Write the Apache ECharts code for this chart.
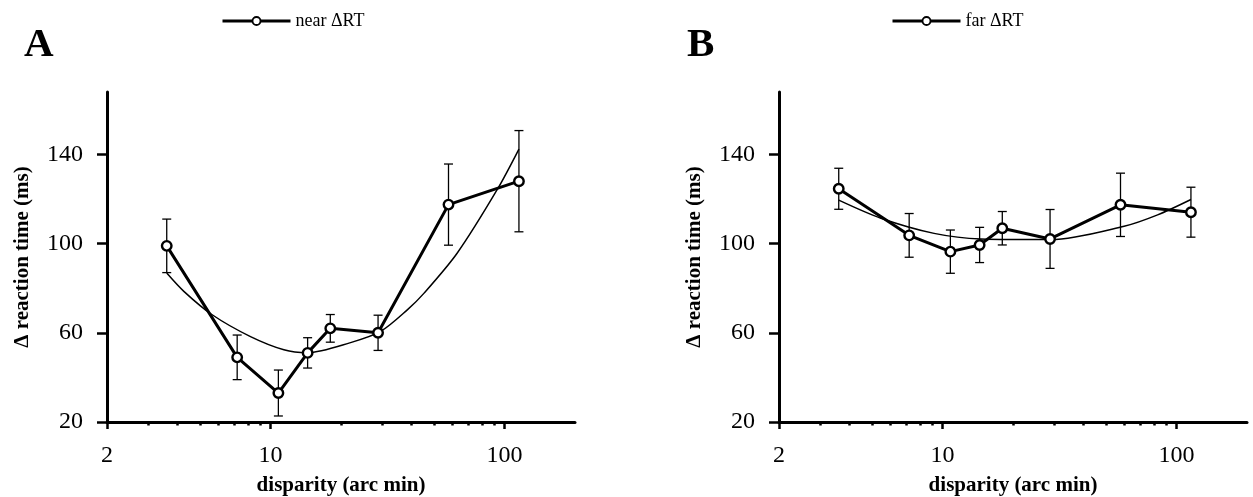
<!DOCTYPE html>
<html>
<head>
<meta charset="utf-8">
<script src="https://cdn.jsdelivr.net/npm/echarts@6/dist/echarts.min.js"></script>
<style>
  html, body { margin: 0; padding: 0; background: #fff; }
  #chart { width: 1253px; height: 497px; }
</style>
</head>
<body>
<div id="chart"></div>
<script>
// disparity steps (arc min)
const disparity = [3.6, 7.2, 10.8, 14.4, 18, 28.8, 57.6, 115.2];
// panel A: near
const nearRT = [99, 49, 33, 51, 62, 60, 117.5, 128];
const nearErr = [12, 10, 10.3, 6.8, 6.2, 7.9, 18.2, 22.7];
const nearFitX = [3.6, 4.26, 5.63, 8.21, 11.4, 14.35, 21.98, 29.5, 38.4, 45.3, 62.8, 93.1, 115.2];
const nearFitY = [86.8, 78.6, 68.1, 58.3, 52.4, 51.1, 55.6, 60.6, 70.3, 77.8, 95.8, 124.3, 142.4];
// panel B: far
const farRT = [124.6, 103.7, 96.4, 99.4, 106.9, 102.1, 117.4, 114.1];
const farErr = [9.2, 9.8, 9.7, 7.9, 7.5, 13.2, 14.2, 11.2];
const farFitX = [3.6, 5.45, 9.2, 14.6, 29, 59.7, 83, 115.2];
const farFitY = [119.5, 111.4, 104.6, 102.1, 101.8, 107.8, 112.9, 119.8];
// axes
const xMajorTicks = [2, 10, 100];
const xMinorTicks = [3, 4, 5, 6, 7, 8, 9, 20, 30, 40, 50, 60, 70, 80, 90];
const yTicks = [20, 60, 100, 140];

const FONT = 'Liberation Serif, Times New Roman, serif';

const zip = (xs, ys) => xs.map((x, i) => [x, ys[i]]);
const bars = (xs, ys, es) => xs.map((x, i) => [x, ys[i] - es[i], ys[i] + es[i]]);

function errorBarItem(params, api) {
  const x = api.value(0);
  const top = api.coord([x, api.value(2)]);
  const bot = api.coord([x, api.value(1)]);
  const cap = 4.5;
  const style = { stroke: '#000', lineWidth: 1.3 };
  return {
    type: 'group',
    children: [
      { type: 'line', shape: { x1: top[0], y1: top[1], x2: bot[0], y2: bot[1] }, style },
      { type: 'line', shape: { x1: top[0] - cap, y1: top[1], x2: top[0] + cap, y2: top[1] }, style },
      { type: 'line', shape: { x1: bot[0] - cap, y1: bot[1], x2: bot[0] + cap, y2: bot[1] }, style }
    ]
  };
}

const xMain = (grid) => ({
  type: 'log',
  logBase: 10,
  gridIndex: grid,
  min: 2,
  max: 200,
  position: 'bottom',
  name: 'disparity (arc min)',
  nameLocation: 'middle',
  nameGap: 53,
  nameTextStyle: { fontFamily: FONT, fontWeight: 'bold', fontSize: 21, color: '#000' },
  axisLine: { show: true, lineStyle: { color: '#000', width: 3 } },
  axisTick: { show: true, customValues: xMajorTicks, length: 7, lineStyle: { color: '#000', width: 2.5 } },
  axisLabel: {
    customValues: xMajorTicks,
    margin: 22,
    fontFamily: FONT,
    fontSize: 24,
    color: '#000',
    formatter: v => String(Math.round(v))
  },
  splitLine: { show: false },
  minorTick: { show: false }
});

const xMinor = (grid) => ({
  type: 'log',
  logBase: 10,
  gridIndex: grid,
  min: 2,
  max: 200,
  position: 'bottom',
  axisLine: { show: false },
  axisTick: { show: true, customValues: xMinorTicks, length: 3.5, lineStyle: { color: '#000', width: 2.5 } },
  axisLabel: { show: false },
  splitLine: { show: false }
});

const yAxisFor = (grid) => ({
  type: 'value',
  gridIndex: grid,
  min: 20,
  max: 168,
  interval: 40,
  name: 'Δ reaction time (ms)',
  nameLocation: 'middle',
  nameGap: 74,
  nameTextStyle: { fontFamily: FONT, fontWeight: 'bold', fontSize: 21, color: '#000' },
  axisLine: { show: true, lineStyle: { color: '#000', width: 3 } },
  axisTick: { show: true, customValues: yTicks, length: 10, lineStyle: { color: '#000', width: 2.5 } },
  axisLabel: { customValues: yTicks, margin: 24, fontFamily: FONT, fontSize: 24, color: '#000' },
  splitLine: { show: false }
});

const dataSeries = (name, grid, ys) => ({
  name: name,
  type: 'line',
  xAxisIndex: grid * 2,
  yAxisIndex: grid,
  data: zip(disparity, ys),
  symbol: 'circle',
  symbolSize: 9.5,
  lineStyle: { color: '#000', width: 3 },
  itemStyle: { color: '#fff', borderColor: '#000', borderWidth: 2.4 },
  z: 5
});

const fitSeries = (grid, xs, ys) => ({
  type: 'line',
  xAxisIndex: grid * 2,
  yAxisIndex: grid,
  data: zip(xs, ys),
  smooth: 0.3,
  showSymbol: false,
  symbol: 'none',
  lineStyle: { color: '#000', width: 1.5 },
  z: 3
});

const errSeries = (grid, ys, es) => ({
  type: 'custom',
  xAxisIndex: grid * 2,
  yAxisIndex: grid,
  data: bars(disparity, ys, es),
  encode: { x: 0, y: [1, 2] },
  renderItem: errorBarItem,
  z: 2
});

const legendFor = (name, left) => ({
  data: [name],
  left: left,
  top: 12,
  padding: 0,
  itemWidth: 68,
  itemHeight: 10,
  itemGap: 8,
  lineStyle: { color: '#000', width: 3 },
  itemStyle: { color: '#fff', borderColor: '#000', borderWidth: 1.8 },
  textStyle: { fontFamily: FONT, fontSize: 18, color: '#000' }
});

var myChart = echarts.init(document.getElementById('chart'));
myChart.setOption({
  animation: false,
  backgroundColor: '#fff',
  title: [
    { text: 'A', left: 19, top: 20, textStyle: { fontFamily: FONT, fontWeight: 'bold', fontSize: 41, color: '#000' } },
    { text: 'B', left: 682, top: 20, textStyle: { fontFamily: FONT, fontWeight: 'bold', fontSize: 41, color: '#000' } }
  ],
  legend: [legendFor('near ΔRT', 221), legendFor('far ΔRT', 891)],
  grid: [
    { left: 107, top: 92, width: 468, height: 330, containLabel: false, outerBoundsMode: 'none' },
    { left: 779, top: 92, width: 468, height: 330, containLabel: false, outerBoundsMode: 'none' }
  ],
  xAxis: [xMain(0), xMinor(0), xMain(1), xMinor(1)],
  yAxis: [yAxisFor(0), yAxisFor(1)],
  series: [
    errSeries(0, nearRT, nearErr),
    fitSeries(0, nearFitX, nearFitY),
    dataSeries('near ΔRT', 0, nearRT),
    errSeries(1, farRT, farErr),
    fitSeries(1, farFitX, farFitY),
    dataSeries('far ΔRT', 1, farRT)
  ]
});
window.addEventListener('resize', () => myChart.resize());
</script>
</body>
</html>
